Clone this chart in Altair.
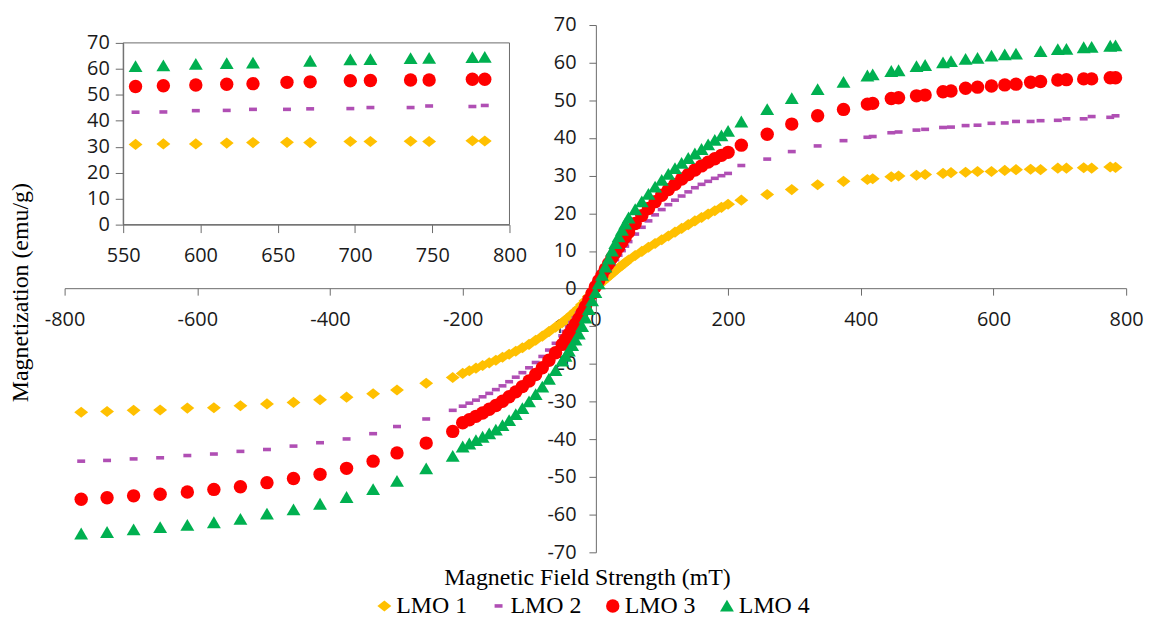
import altair as alt
import pandas as pd

SERIES = ["LMO 1", "LMO 2", "LMO 3", "LMO 4"]
COLORS = ["#FFC000", "#B04FB4", "#FF0000", "#00B050"]
SHAPES = [
    "M-1,0L0,-0.8L1,0L0,0.8Z",            # diamond
    "M-1,-0.45L1,-0.45L1,0.45L-1,0.45Z",  # dash
    "circle",
    "M0,-0.9L1,0.8L-1,0.8Z",              # triangle
]
SIZES = [196, 64, 182, 196]

X_LEFT = [-775, -736, -696, -656, -615, -575, -535, -495, -455, -415, -375, -335, -299, -255, -215]
X_DENSE = [-200, -190, -180, -170, -160, -150, -140, -130, -120, -110, -100, -90, -80, -70, -60, -50,
           -45, -40, -35, -30, -25, -20, -15, -10, -5, 0, 5, 10, 15, 20, 25, 30, 35, 40, 45,
           50, 60, 70, 80, 90, 100, 110, 120, 130, 140, 150, 160, 170, 180, 190, 200]
X_RIGHT = [220, 259, 296, 335, 374, 410, 418, 446, 457, 484, 497, 524, 536, 558, 576, 597, 617, 634,
           656, 671, 697, 710, 736, 748, 776, 784]

LMO1_LEFT = [-32.8, -32.6, -32.3, -32.2, -31.7, -31.6, -31.1, -30.6, -30.2, -29.5, -28.8, -27.9, -26.9, -25.1, -23.6]
LMO1_DENSE = [-22.5, -21.8, -21.1, -20.4, -19.7, -19.0, -18.2, -17.4, -16.6, -15.7, -14.8, -13.7, -12.6, -11.4, -10.2, -9.0,
              -8.3, -7.6, -6.8, -6.0, -5.2, -4.2, -3.2, -2.1, -1.0, 0.3, 1.0, 1.8, 2.5, 3.3, 4.0, 4.8, 5.5, 6.2, 6.9,
              7.6, 8.8, 9.9, 11.0, 12.0, 13.0, 14.0, 15.0, 16.0, 17.0, 18.0, 18.9, 19.8, 20.7, 21.6, 22.4]
LMO1_RIGHT = [23.5, 25.0, 26.3, 27.6, 28.5, 29.0, 29.2, 29.7, 29.9, 30.1, 30.3, 30.6, 30.8, 30.9, 31.1, 31.1, 31.4, 31.6,
              31.7, 31.6, 32.0, 32.0, 32.1, 32.0, 32.3, 32.2]

LMO2_LEFT = [-45.8, -45.6, -45.2, -44.9, -44.3, -43.9, -43.2, -42.7, -41.8, -40.9, -39.9, -38.5, -36.6, -34.6, -32.3]
LMO2_DENSE = [-31.2, -30.4, -29.6, -28.7, -27.8, -26.8, -25.8, -24.7, -23.5, -22.3, -21.0, -19.6, -18.0, -16.3, -14.5, -12.5,
              -11.4, -10.2, -9.0, -7.8, -6.5, -5.1, -3.7, -2.3, -0.9, 0.5, 1.8, 3.0, 4.2, 5.4, 6.5, 7.7, 8.9, 10.1, 11.3,
              12.5, 14.5, 16.3, 18.0, 19.6, 21.0, 22.3, 23.5, 24.6, 25.7, 26.8, 27.7, 28.5, 29.3, 30.0, 30.6]
LMO2_RIGHT = [32.7, 34.4, 36.4, 37.9, 39.3, 40.2, 40.4, 41.4, 41.6, 42.1, 42.3, 42.8, 42.9, 43.3, 43.4, 43.9, 44.0, 44.4,
              44.4, 44.6, 44.7, 45.1, 45.1, 45.7, 45.5, 45.9]

LMO3_LEFT = [-55.9, -55.5, -55.0, -54.6, -54.0, -53.3, -52.6, -51.5, -50.4, -49.3, -47.7, -45.8, -43.6, -41.0, -37.9]
LMO3_DENSE = [-35.6, -34.8, -33.9, -33.0, -32.0, -31.0, -29.9, -28.7, -27.4, -26.0, -24.5, -22.8, -21.0, -19.0, -17.0, -14.8,
              -13.5, -12.1, -10.8, -9.4, -8.0, -6.4, -4.7, -3.0, -1.3, 0.5, 2.1, 3.6, 5.2, 6.7, 8.2, 9.6, 11.0, 12.4, 13.7,
              15.0, 17.3, 19.4, 21.3, 23.1, 24.8, 26.3, 27.7, 29.1, 30.3, 31.5, 32.6, 33.6, 34.5, 35.4, 36.2]
LMO3_RIGHT = [38.1, 41.0, 43.7, 45.9, 47.6, 49.0, 49.2, 50.5, 50.7, 51.2, 51.4, 52.3, 52.5, 53.2, 53.5, 53.8, 54.1, 54.3,
              54.8, 55.0, 55.4, 55.5, 55.7, 55.7, 56.0, 56.0]

LMO4_LEFT = [-65.1, -64.7, -64.0, -63.4, -62.8, -62.1, -61.2, -59.8, -58.7, -57.2, -55.4, -53.3, -51.1, -47.8, -44.5]
LMO4_DENSE = [-42.0, -41.2, -40.3, -39.4, -38.5, -37.5, -36.3, -35.0, -33.4, -31.8, -30.0, -28.1, -26.1, -24.0, -21.7, -19.2,
              -17.9, -16.5, -15.1, -13.6, -12.0, -10.0, -7.8, -5.5, -3.2, -1.0, 1.3, 3.6, 5.8, 7.9, 10.0, 12.0, 13.8, 15.5, 17.2,
              18.8, 21.0, 23.1, 25.1, 27.0, 28.8, 30.4, 31.9, 33.3, 34.6, 35.8, 37.0, 38.2, 39.4, 40.6, 41.8]
LMO4_RIGHT = [44.3, 47.6, 50.5, 52.9, 54.8, 56.5, 56.8, 57.7, 57.9, 59.0, 59.3, 60.0, 60.3, 60.9, 61.2, 61.8, 62.1, 62.3,
              None, 63.0, 63.5, 63.6, 64.0, 64.1, 64.4, 64.5]

MAIN_X_TICKS = [-800, -600, -400, -200, 0, 200, 400, 600, 800]
MAIN_Y_TICKS = [-70, -60, -50, -40, -30, -20, -10, 0, 10, 20, 30, 40, 50, 60, 70]
INSET_X_TICKS = [550, 600, 650, 700, 750, 800]
INSET_Y_TICKS = [0, 10, 20, 30, 40, 50, 60, 70]
INSET_X_DOMAIN = [550, 800]
INSET_Y_DOMAIN = [0, 70]

X_ALL = X_LEFT + X_DENSE + X_RIGHT
SERIES_VALUES = [
    LMO1_LEFT + LMO1_DENSE + LMO1_RIGHT,
    LMO2_LEFT + LMO2_DENSE + LMO2_RIGHT,
    LMO3_LEFT + LMO3_DENSE + LMO3_RIGHT,
    LMO4_LEFT + LMO4_DENSE + LMO4_RIGHT,
]
rows = []
for name, vals in zip(SERIES, SERIES_VALUES):
    for x, y in zip(X_ALL, vals):
        if y is not None:
            rows.append({"field": x, "mag": y, "series": name})
df = pd.DataFrame(rows)
frame_df = pd.DataFrame({"x0": [INSET_X_DOMAIN[0]], "x1": [INSET_X_DOMAIN[1]],
                         "y0": [INSET_Y_DOMAIN[0]], "y1": [INSET_Y_DOMAIN[1]]})

W, H = 1147, 611
AX = "#6b6b6b"
LBL_FONT = "Open Sans"
TITLE_FONT = "Liberation Serif"
HYPHEN_LABEL = "datum.value < 0 ? '-' + abs(datum.value) : '' + datum.value"

legend = alt.Legend(orient="none", legendX=367, legendY=588, direction="horizontal", title=None,
                    labelFont=TITLE_FONT, labelFontSize=24, labelColor="black",
                    labelOffset=0, columnPadding=19, symbolStrokeWidth=0, symbolOpacity=1)

color = alt.Color("series:N", scale=alt.Scale(domain=SERIES, range=COLORS), legend=legend)
shape = alt.Shape("series:N", scale=alt.Scale(domain=SERIES, range=SHAPES), legend=legend)
size = alt.Size("series:N", scale=alt.Scale(type="ordinal", domain=SERIES, range=SIZES), legend=legend)

common_axis = dict(grid=False, domainColor=AX, tickColor=AX, labelFont=LBL_FONT, labelFontSize=20,
                   labelColor="#1a1a1a", labelOverlap=False, labelFlush=False, labelExpr=HYPHEN_LABEL)

main_x_axis = alt.Axis(orient="bottom", offset=280 - H, values=MAIN_X_TICKS, tickSize=7, labelPadding=15,
                       title="Magnetic Field Strength (mT)", titleX=583, titleY=298, titleAlign="center",
                       titleBaseline="alphabetic", titleFont=TITLE_FONT, titleFontSize=24,
                       titleFontWeight="normal", titleColor="black", **common_axis)
main_y_axis = alt.Axis(orient="left", offset=-592, values=MAIN_Y_TICKS, tickSize=7, labelPadding=13,
                       title="Magnetization (emu/g)", titleAngle=270, titleX=-572, titleY=284,
                       titleAlign="center", titleBaseline="alphabetic", titleFont=TITLE_FONT,
                       titleFontSize=24, titleFontWeight="normal", titleColor="black", **common_axis)

inset_x_axis = alt.Axis(orient="bottom", offset=216 - H, values=INSET_X_TICKS, tickSize=8, labelPadding=13,
                        title=None, **common_axis)
inset_y_axis = alt.Axis(orient="left", offset=-116, values=INSET_Y_TICKS, tickSize=8, labelPadding=6,
                        title=None, **common_axis)

main_xs = alt.Scale(domain=[-800, 800], range=[57, 1126], nice=False, zero=False)
main_ys = alt.Scale(domain=[-70, 70], range=[546, 15], nice=False, zero=False)
inset_xs = alt.Scale(domain=INSET_X_DOMAIN, range=[116, 505], nice=False, zero=False)
inset_ys = alt.Scale(domain=INSET_Y_DOMAIN, range=[216, 33], nice=False, zero=False)

main = alt.Chart(df).mark_point(filled=True, opacity=1, strokeWidth=0).encode(
    x=alt.X("field:Q", scale=main_xs, axis=main_x_axis),
    y=alt.Y("mag:Q", scale=main_ys, axis=main_y_axis),
    color=color, shape=shape, size=size,
)

frame = alt.Chart(frame_df).mark_rect(fillOpacity=0, stroke=AX, strokeWidth=1).encode(
    x=alt.X("x0:Q", scale=inset_xs, axis=inset_x_axis),
    x2="x1:Q",
    y=alt.Y("y0:Q", scale=inset_ys, axis=inset_y_axis),
    y2="y1:Q",
)

inset_pts = alt.Chart(df).transform_filter(alt.datum.field >= INSET_X_DOMAIN[0]).mark_point(
    filled=True, opacity=1, strokeWidth=0).encode(
    x=alt.X("field:Q", scale=inset_xs, axis=inset_x_axis),
    y=alt.Y("mag:Q", scale=inset_ys, axis=inset_y_axis),
    color=color, shape=shape, size=size,
)

inset = alt.layer(frame, inset_pts)

chart = alt.layer(main, inset).resolve_scale(x="independent", y="independent").properties(
    width=W, height=H, autosize=alt.AutoSizeParams(type="none"), padding=0
).configure_view(stroke=None)

chart.save("out.html", embed_options={"renderer": "svg", "actions": False})
